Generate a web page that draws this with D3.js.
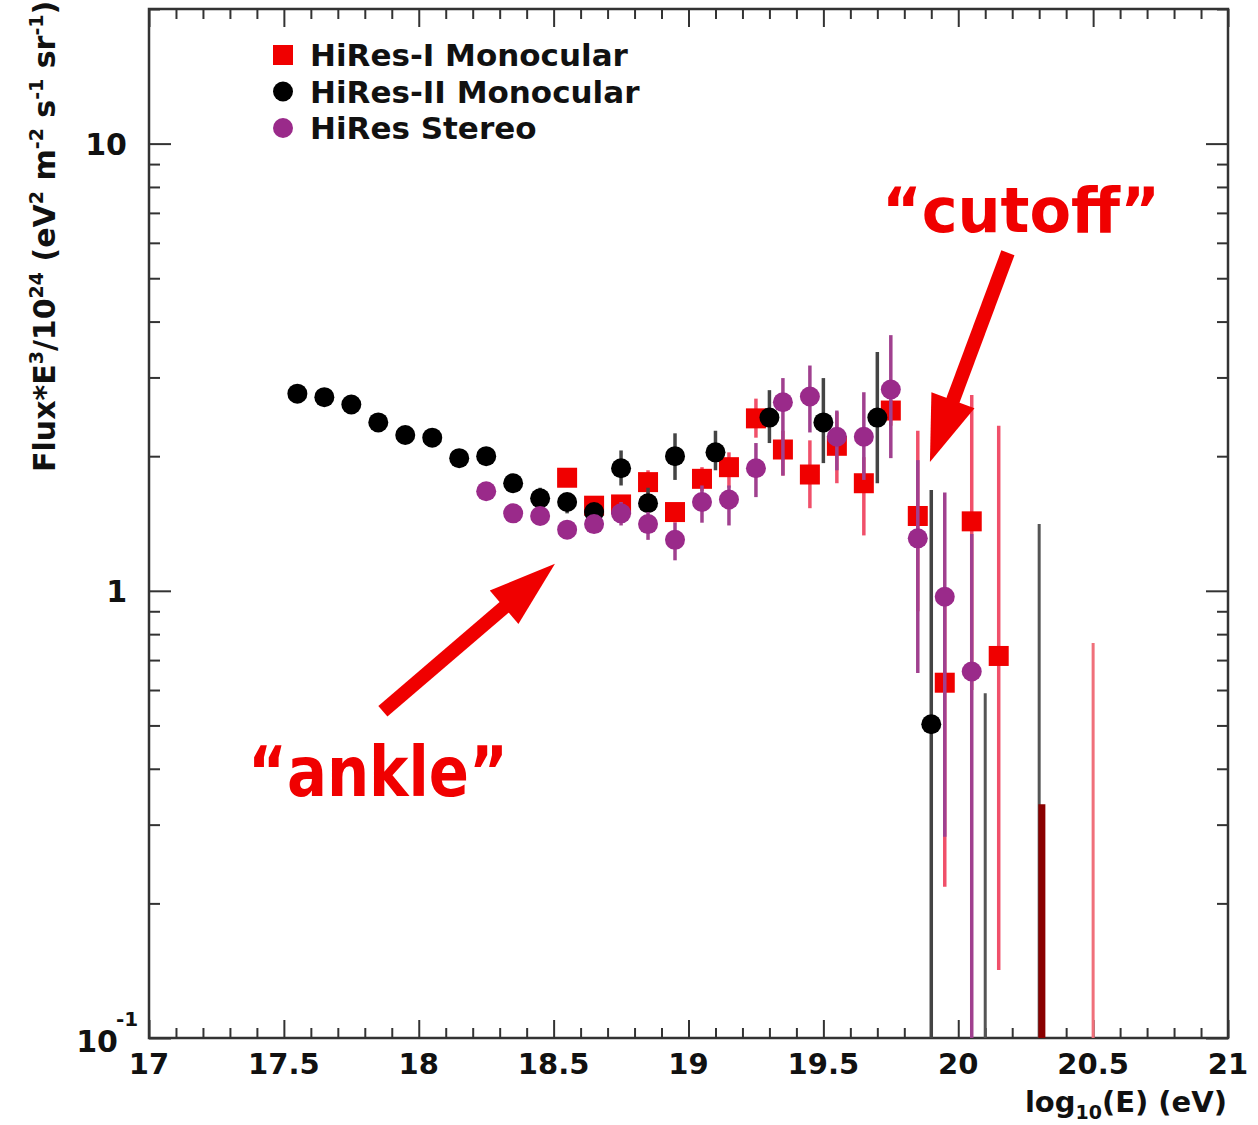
<!DOCTYPE html>
<html>
<head>
<meta charset="utf-8">
<script src="https://cdn.jsdelivr.net/npm/d3@7"></script>
<style>
  body { margin: 0; background: #fff; }
  text { font-family: 'DejaVu Sans', sans-serif; font-weight: bold; }
</style>
</head>
<body>
<svg width="1258" height="1125"></svg>
<script>
  // HiRes-I monocular (red squares)
  const mono1X  = [18.55,18.65,18.75,18.85,18.95,19.05,19.15,19.25,19.35,19.45,19.55,19.65,19.75,19.85,19.95,20.05,20.15];
  const mono1Y  = [1.79,1.55,1.56,1.75,1.50,1.78,1.89,2.43,2.07,1.82,2.11,1.74,2.53,1.47,0.623,1.43,0.715];
  const mono1Lo = [1.72,1.50,1.50,1.63,1.42,1.67,1.70,2.20,1.81,1.53,1.74,1.33,2.34,0.90,0.218,0.60,0.142];
  const mono1Hi = [1.86,1.60,1.62,1.86,1.57,1.89,2.04,2.69,2.28,2.17,2.51,1.99,2.67,2.28,0.95,2.74,2.34];
  // bars with no point (upper limits)
  const mono1LimX  = [20.31, 20.50];
  const mono1LimHi = [0.333, 0.764];

  // HiRes-II monocular (black circles)
  const mono2X  = [17.55,17.65,17.75,17.85,17.95,18.05,18.15,18.25,18.35,18.45,18.55,18.65,18.75,18.85,18.95,19.10,19.30,19.50,19.70,19.90];
  const mono2Y  = [2.76,2.71,2.61,2.38,2.23,2.20,1.98,2.00,1.74,1.61,1.58,1.50,1.88,1.57,2.00,2.04,2.44,2.38,2.44,0.503];
  const mono2Lo = [2.70,2.65,2.55,2.32,2.17,2.14,1.93,1.95,1.69,1.54,1.49,1.46,1.72,1.50,1.77,1.86,2.14,1.93,1.74,0.1];
  const mono2Hi = [2.82,2.77,2.67,2.44,2.29,2.26,2.03,2.05,1.79,1.70,1.65,1.55,2.06,1.70,2.25,2.28,2.81,2.99,3.42,1.68];
  const mono2LimX  = [20.10, 20.30];
  const mono2LimHi = [0.59, 1.41];

  // HiRes stereo (purple circles)
  const stereoX  = [18.25,18.35,18.45,18.55,18.65,18.75,18.85,18.95,19.05,19.15,19.25,19.35,19.45,19.55,19.65,19.75,19.85,19.95,20.05];
  const stereoY  = [1.67,1.49,1.47,1.37,1.41,1.49,1.41,1.30,1.58,1.60,1.88,2.64,2.72,2.21,2.21,2.82,1.31,0.97,0.66];
  const stereoLo = [1.62,1.45,1.43,1.33,1.35,1.40,1.30,1.17,1.42,1.40,1.62,1.81,2.26,1.86,1.77,1.98,0.655,0.282,0.1];
  const stereoHi = [1.72,1.53,1.51,1.41,1.47,1.58,1.50,1.42,1.72,1.72,2.14,2.99,3.19,2.53,2.78,3.73,1.96,1.66,1.34];

  const xMajor = [17, 17.5, 18, 18.5, 19, 19.5, 20, 20.5, 21];
  const yMajor = [0.1, 1, 10];
  const legendLabels = ['HiRes-I Monocular', 'HiRes-II Monocular', 'HiRes Stereo'];

  // annotations: [tailX, tailY, tipX, tipY] in data units
  const ankleArrow = [17.867, 0.538, 18.505, 1.15];
  const cutoffArrow = [20.184, 5.70, 19.895, 1.94];

  const svg = d3.select('svg');
  const red = '#f00000', black = '#000', purple = '#9a2a8a';

  const x = d3.scaleLinear().domain([17, 21]).range([149, 1228]);
  const y = d3.scaleLog().domain([0.1, 20]).range([1038, 9]);
  const [x0, x1] = x.range();
  const [y0, y1] = y.range();

  svg.append('defs').append('clipPath').attr('id', 'clip')
    .append('rect').attr('x', x0).attr('y', y1).attr('width', x1 - x0).attr('height', y0 - y1);

  // ticks, all pointing inward
  const xMinor = d3.range(170, 211).map(d => d / 10).filter(d => !xMajor.includes(d));
  const yMinor = [];
  [0.1, 1, 10].forEach(dec => d3.range(2, 10).forEach(k => { if (dec * k <= 20) yMinor.push(+(dec * k).toFixed(2)); }));

  const tickStyle = g => {
    g.select('.domain').remove();
    g.selectAll('line').attr('stroke', '#333').attr('stroke-width', 2);
    g.selectAll('text').remove();
  };
  const addAxis = (axis, tr) => svg.append('g').attr('transform', tr).call(axis).call(tickStyle);

  addAxis(d3.axisBottom(x).tickValues(xMajor).tickSize(-18), `translate(0,${y0})`);
  addAxis(d3.axisBottom(x).tickValues(xMinor).tickSize(-10), `translate(0,${y0})`);
  addAxis(d3.axisTop(x).tickValues(xMajor).tickSize(-18), `translate(0,${y1})`);
  addAxis(d3.axisTop(x).tickValues(xMinor).tickSize(-10), `translate(0,${y1})`);
  addAxis(d3.axisLeft(y).tickValues(yMajor).tickSize(-22), `translate(${x0},0)`);
  addAxis(d3.axisLeft(y).tickValues(yMinor).tickSize(-11), `translate(${x0},0)`);
  addAxis(d3.axisRight(y).tickValues(yMajor).tickSize(-22), `translate(${x1},0)`);
  addAxis(d3.axisRight(y).tickValues(yMinor).tickSize(-11), `translate(${x1},0)`);

  svg.append('rect')
    .attr('x', x0).attr('y', y1).attr('width', x1 - x0).attr('height', y0 - y1)
    .attr('fill', 'none').attr('stroke', '#333').attr('stroke-width', 2.5);

  // tick labels
  svg.append('g').selectAll('text').data(xMajor).join('text')
    .attr('x', d => x(d)).attr('y', y0 + 36)
    .attr('text-anchor', 'middle').attr('font-size', 29).attr('fill', '#111')
    .text(d => d3.format('')(d));

  const yl = svg.append('g').attr('font-size', 30).attr('fill', '#111');
  yMajor.forEach(v => {
    if (v < 1) {
      yl.append('text').attr('x', 118).attr('y', y(v) + 14).attr('text-anchor', 'end').text('10');
      yl.append('text').attr('x', 116).attr('y', y(v) - 12).attr('font-size', 20).text('-1');
    } else {
      yl.append('text').attr('x', 127).attr('y', y(v) + 11).attr('text-anchor', 'end').text(d3.format('')(v));
    }
  });

  // axis titles
  const xt = svg.append('text').attr('x', 1227).attr('y', 1112).attr('text-anchor', 'end')
    .attr('font-size', 29).attr('fill', '#111');
  xt.append('tspan').text('log');
  xt.append('tspan').attr('font-size', 19).attr('dy', 7).text('10');
  xt.append('tspan').attr('dy', -7).text('(E) (eV)');

  const yt = svg.append('text').attr('transform', 'translate(55,472) rotate(-90)')
    .attr('font-size', 30).attr('fill', '#111');
  const sup = s => yt.append('tspan').attr('font-size', 19).attr('dy', -12).text(s);
  const base = s => yt.append('tspan').attr('dy', 12).text(s);
  yt.append('tspan').text('Flux*E');
  sup('3');
  base('/10');
  sup('24');
  base(' (eV');
  sup('2');
  base(' m');
  sup('-2');
  base(' s');
  sup('-1');
  base(' sr');
  sup('-1');
  base(')');

  // data
  const plot = svg.append('g').attr('clip-path', 'url(#clip)');
  const zip = (xs, ys, lo, hi) => xs.map((d, i) => ({ x: d, y: ys ? ys[i] : null, lo: lo ? lo[i] : 0.1, hi: hi[i] }));

  const mono1 = zip(mono1X, mono1Y, mono1Lo, mono1Hi);
  const mono2 = zip(mono2X, mono2Y, mono2Lo, mono2Hi);
  const stereo = zip(stereoX, stereoY, stereoLo, stereoHi);
  const mono1Lim = zip(mono1LimX, null, null, mono1LimHi);
  const mono2Lim = zip(mono2LimX, null, null, mono2LimHi);

  const bars = (data, color, w) => plot.append('g').selectAll('line').data(data).join('line')
    .attr('x1', d => x(d.x)).attr('x2', d => x(d.x))
    .attr('y1', d => y(Math.max(d.lo, 0.09))).attr('y2', d => y(d.hi))
    .attr('stroke', color).attr('stroke-width', w);

  bars(mono2Lim, '#555', 3);
  // first limit bar sits on top of the black one and shows dark
  bars(mono1Lim, '#f0707a', 3).filter((d, i) => i === 0)
    .attr('stroke', '#8a0000').attr('stroke-width', 7);
  bars(mono1, '#f0506a', 3.5);
  plot.append('g').selectAll('rect').data(mono1).join('rect')
    .attr('x', d => x(d.x) - 10).attr('y', d => y(d.y) - 10)
    .attr('width', 20).attr('height', 20).attr('fill', red);
  bars(mono2, '#444', 3.5);
  plot.append('g').selectAll('circle').data(mono2).join('circle')
    .attr('cx', d => x(d.x)).attr('cy', d => y(d.y)).attr('r', 10).attr('fill', black);
  bars(stereo, '#a0408f', 3.5);
  plot.append('g').selectAll('circle').data(stereo).join('circle')
    .attr('cx', d => x(d.x)).attr('cy', d => y(d.y)).attr('r', 10).attr('fill', purple);

  // legend
  const lg = svg.append('g');
  legendLabels.forEach((t, i) => {
    const cy = 55 + i * 36.5;
    if (i === 0) lg.append('rect').attr('x', 273).attr('y', cy - 10).attr('width', 20).attr('height', 20).attr('fill', red);
    else lg.append('circle').attr('cx', 283).attr('cy', cy).attr('r', 10).attr('fill', i === 1 ? black : purple);
    lg.append('text').attr('x', 310).attr('y', cy + 11).attr('font-size', 31).attr('fill', '#111').text(t);
  });

  // annotation arrows
  const arrow = ([ax, ay, bx, by], headLen, headHalf, shaftW) => {
    const tx = x(ax), ty = y(ay), px = x(bx), py = y(by);
    const len = Math.hypot(px - tx, py - ty);
    const ux = (px - tx) / len, uy = (py - ty) / len;
    const nx = -uy, ny = ux;
    const bx0 = px - ux * headLen, by0 = py - uy * headLen;
    svg.append('line').attr('x1', tx).attr('y1', ty).attr('x2', bx0 + ux * 2).attr('y2', by0 + uy * 2)
      .attr('stroke', red).attr('stroke-width', shaftW);
    svg.append('path')
      .attr('d', `M${px},${py}L${bx0 + nx * headHalf},${by0 + ny * headHalf}L${bx0 - nx * headHalf},${by0 - ny * headHalf}Z`)
      .attr('fill', red);
  };
  arrow(ankleArrow, 67, 22, 14);
  arrow(cutoffArrow, 66, 23, 14);

  svg.append('text').attr('x', x(17.367)).attr('y', y(0.347))
    .attr('font-size', 70).attr('fill', red).attr('textLength', 260).attr('lengthAdjust', 'spacingAndGlyphs')
    .text('\u201Cankle\u201D');
  svg.append('text').attr('x', x(19.717)).attr('y', y(6.35))
    .attr('font-size', 63).attr('fill', red).attr('textLength', 278).attr('lengthAdjust', 'spacingAndGlyphs')
    .text('\u201Ccutoff\u201D');
</script>
</body>
</html>
